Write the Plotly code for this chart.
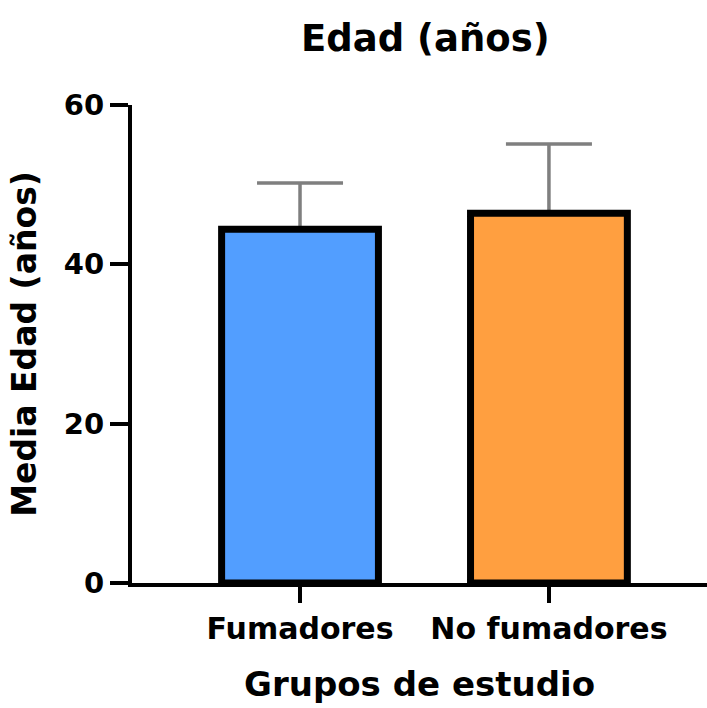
import plotly.graph_objects as go

# data
groups = ['Fumadores', 'No fumadores']
mean_age = [44.4, 46.4]
sd_age = [5.8, 8.7]
bar_colors = ['#529EFF', '#FF9F40']

FONT = 'DejaVu Sans, Arial, sans-serif'
xpos = list(range(len(groups)))

fig = go.Figure()
# error bars first (transparent bars) so the real bars cover the lower cap
fig.add_trace(go.Bar(
    x=xpos, y=mean_age, width=0.63,
    marker=dict(color='rgba(0,0,0,0)', line=dict(width=0)),
    error_y=dict(type='data', array=sd_age, arrayminus=[0] * len(sd_age),
                 color='#7f7f7f', thickness=3.5, width=43),
    showlegend=False, hoverinfo='skip',
))
fig.add_trace(go.Bar(
    x=xpos, y=mean_age, width=0.63,
    marker=dict(color=bar_colors, line=dict(color='black', width=7)),
    showlegend=False,
))

fig.update_layout(
    width=707, height=708,
    margin=dict(l=132, r=0, t=105, b=125),
    plot_bgcolor='white', paper_bgcolor='white',
    barmode='overlay',
    font=dict(family=FONT, color='black', size=30, weight='bold'),
    title=dict(text='Edad (años)', x=0.51, xref='paper', y=0.946, yanchor='middle',
               font=dict(family=FONT, size=37, weight='bold')),
)
fig.update_xaxes(
    range=[-0.675, 1.635], tickvals=xpos, ticktext=groups,
    showline=True, linecolor='black', linewidth=4,
    ticks='outside', ticklen=16, tickwidth=4, tickcolor='black',
    showgrid=False, zeroline=False,
    tickfont=dict(family=FONT, size=30, weight='bold'),
    title=dict(text='Grupos de estudio', standoff=28,
               font=dict(family=FONT, size=34, weight='bold')),
)
fig.update_yaxes(
    range=[0, 60], tickvals=[0, 20, 40, 60],
    showline=True, linecolor='black', linewidth=4,
    ticks='outside', ticklen=18, tickwidth=4, tickcolor='black',
    showgrid=False, zeroline=False,
    tickfont=dict(family=FONT, size=29, weight='bold'),
    title=dict(text='Media Edad (años)', standoff=18,
               font=dict(family=FONT, size=33, weight='bold')),
)

fig.write_html('out.html', config={'displayModeBar': False},
               post_script="document.body.style.margin='0px';")
